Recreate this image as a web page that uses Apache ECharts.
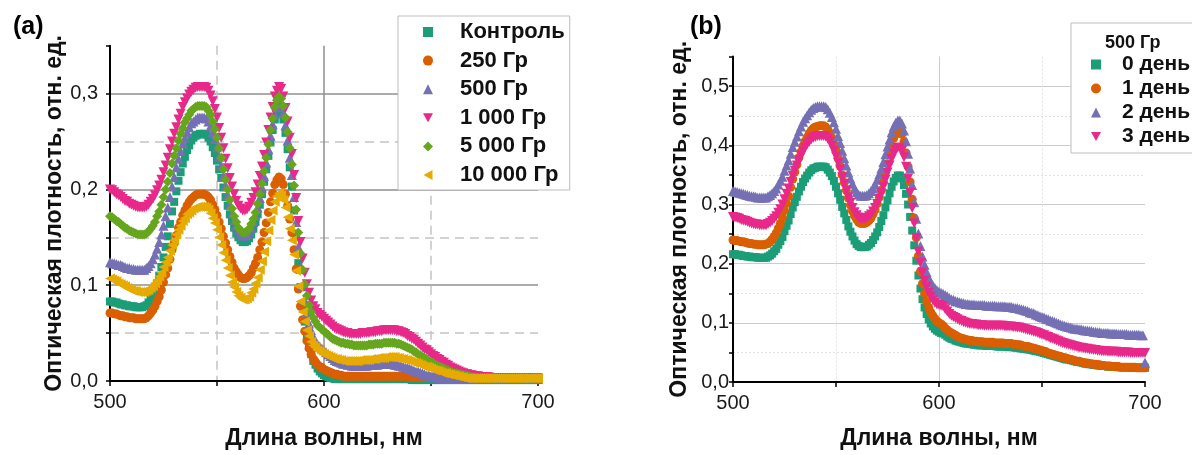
<!DOCTYPE html>
<html>
<head>
<meta charset="utf-8">
<script src="https://cdn.jsdelivr.net/npm/echarts@6/dist/echarts.min.js"></script>
<style>
  html, body { margin: 0; padding: 0; background: #ffffff; }
  #chart { width: 1192px; height: 455px; }
</style>
</head>
<body>
<div id="chart"></div>
<script>
// Wavelength grid, 1 nm step
const wavelengths = [];
for (let nm = 500; nm <= 700; nm++) wavelengths.push(nm);

// Panel (a): spectra after different doses
const doseNames = ['Контроль', '250 Гр', '500 Гр', '1 000 Гр', '5 000 Гр', '10 000 Гр'];

const doseControl = [
  .083,.083,.082,.082,.081,.080,.080,.079,.079,.078,
  .078,.078,.077,.077,.077,.077,.078,.079,.082,.085,
  .090,.095,.102,.110,.119,.129,.140,.151,.164,.177,
  .187,.198,.209,.218,.227,.234,.241,.246,.251,.254,
  .256,.257,.258,.258,.258,.257,.254,.250,.244,.238,
  .230,.221,.212,.202,.192,.183,.174,.167,.160,.154,
  .150,.147,.145,.145,.146,.149,.153,.159,.166,.174,
  .184,.195,.208,.221,.235,.249,.262,.273,.280,.284,
  .281,.273,.259,.242,.223,.203,.178,.151,.123,.098,
  .078,.062,.048,.037,.028,.021,.017,.013,.010,.008,
  .006,.005,.004,.003,.003,.002,.002,.002,.002,.002,
  .002,.002,.002,.002,.002,.002,.002,.002,.002,.002,
  .002,.002,.002,.002,.002,.002,.002,.002,.002,.002,
  .002,.002,.002,.002,.002,.002,.002,.002,.002,.002,
  .002,.001,.001,.001,.001,.001,.001,.001,.001,.001,
  .001,.001,.001,.001,.001,.001,.001,.001,.001,.001,
  .001,.001,.001,.001,.001,.001,.001,.001,.001,.001,
  .001,.001,.001,.001,.001,.001,.001,.001,.001,.001,
  .001,.001,.001,.001,.001,.001,.001,.001,.001,.001,
  .001,.001,.001,.001,.001,.001,.001,.001,.001,.001,
  .001
];

const dose250 = [
  .071,.071,.070,.070,.069,.068,.068,.067,.067,.066,
  .066,.066,.065,.065,.065,.065,.065,.066,.068,.071,
  .074,.078,.083,.088,.095,.103,.111,.118,.127,.137,
  .144,.152,.160,.166,.173,.178,.183,.187,.190,.192,
  .194,.195,.195,.195,.195,.194,.192,.189,.184,.179,
  .173,.166,.159,.151,.144,.137,.130,.124,.118,.114,
  .111,.108,.107,.107,.108,.110,.113,.118,.123,.129,
  .137,.145,.155,.165,.176,.187,.196,.205,.210,.213,
  .211,.205,.195,.183,.169,.155,.137,.117,.096,.078,
  .064,.052,.042,.034,.028,.023,.020,.017,.015,.014,
  .012,.011,.010,.009,.008,.007,.007,.006,.006,.005,
  .005,.005,.005,.005,.005,.005,.005,.005,.005,.005,
  .005,.005,.005,.005,.005,.005,.005,.005,.005,.005,
  .005,.005,.005,.005,.005,.005,.005,.005,.005,.005,
  .005,.004,.004,.004,.004,.004,.004,.004,.004,.004,
  .004,.004,.004,.004,.004,.004,.004,.004,.004,.004,
  .004,.003,.003,.003,.003,.003,.003,.003,.003,.003,
  .003,.003,.003,.003,.003,.003,.003,.003,.003,.003,
  .003,.003,.003,.003,.003,.003,.003,.003,.003,.003,
  .003,.003,.003,.003,.003,.003,.003,.003,.003,.003,
  .003
];

const dose500 = [
  .124,.123,.123,.122,.121,.121,.120,.119,.118,.118,
  .117,.117,.116,.116,.116,.116,.116,.118,.120,.123,
  .127,.132,.138,.145,.153,.162,.172,.181,.192,.203,
  .213,.223,.232,.240,.248,.254,.260,.265,.269,.271,
  .273,.275,.275,.275,.275,.274,.271,.266,.260,.253,
  .244,.234,.225,.214,.204,.194,.184,.175,.168,.162,
  .157,.154,.152,.152,.153,.156,.160,.166,.173,.181,
  .191,.202,.214,.228,.242,.256,.268,.279,.286,.290,
  .287,.280,.267,.251,.233,.215,.192,.166,.140,.117,
  .099,.084,.071,.060,.053,.046,.042,.038,.036,.034,
  .032,.030,.028,.026,.024,.022,.021,.020,.019,.018,
  .018,.017,.017,.016,.016,.016,.016,.016,.016,.016,
  .016,.017,.017,.017,.017,.017,.018,.018,.018,.018,
  .018,.018,.018,.017,.017,.016,.016,.015,.014,.014,
  .013,.012,.011,.010,.010,.009,.008,.007,.006,.006,
  .005,.005,.004,.004,.003,.003,.002,.002,.002,.002,
  .002,.002,.002,.002,.002,.002,.002,.002,.002,.002,
  .002,.002,.002,.002,.002,.002,.002,.002,.002,.002,
  .002,.002,.002,.002,.002,.002,.002,.002,.002,.002,
  .002,.002,.002,.002,.002,.002,.002,.002,.002,.002,
  .002
];

const dose1000 = [
  .200,.199,.197,.195,.194,.192,.190,.188,.187,.185,
  .184,.183,.182,.181,.181,.181,.181,.182,.184,.187,
  .190,.194,.199,.204,.210,.218,.225,.233,.242,.250,
  .258,.265,.273,.279,.286,.291,.295,.299,.302,.304,
  .306,.307,.307,.307,.307,.306,.303,.298,.292,.284,
  .275,.264,.254,.243,.232,.222,.212,.203,.195,.188,
  .183,.180,.178,.178,.179,.182,.186,.191,.197,.205,
  .214,.224,.236,.249,.262,.275,.286,.297,.303,.307,
  .305,.297,.285,.271,.254,.237,.215,.191,.167,.145,
  .128,.113,.101,.092,.084,.078,.075,.071,.069,.067,
  .065,.063,.061,.059,.057,.055,.054,.053,.052,.051,
  .050,.050,.049,.049,.049,.049,.049,.049,.050,.050,
  .050,.050,.051,.051,.051,.052,.052,.052,.053,.053,
  .053,.053,.053,.053,.052,.052,.051,.050,.049,.047,
  .046,.044,.043,.041,.039,.037,.035,.033,.032,.030,
  .028,.026,.025,.023,.022,.020,.019,.017,.016,.014,
  .013,.012,.011,.010,.009,.008,.007,.007,.006,.006,
  .005,.005,.005,.004,.004,.004,.004,.004,.003,.003,
  .003,.003,.003,.003,.003,.003,.003,.003,.003,.003,
  .003,.003,.003,.003,.003,.003,.003,.003,.003,.003,
  .003
];

const dose5000 = [
  .172,.171,.169,.167,.166,.164,.162,.160,.159,.157,
  .156,.155,.154,.153,.153,.153,.153,.154,.156,.159,
  .162,.166,.172,.177,.184,.192,.200,.208,.217,.227,
  .235,.243,.251,.258,.264,.270,.274,.278,.282,.284,
  .286,.287,.287,.287,.287,.286,.282,.278,.271,.263,
  .254,.243,.233,.221,.210,.200,.189,.180,.172,.166,
  .160,.157,.155,.155,.156,.159,.164,.169,.176,.185,
  .195,.206,.219,.233,.247,.262,.274,.286,.293,.297,
  .295,.287,.275,.260,.243,.226,.204,.179,.155,.133,
  .116,.101,.089,.079,.072,.066,.062,.058,.056,.054,
  .052,.050,.048,.046,.044,.043,.042,.041,.040,.040,
  .039,.039,.038,.038,.037,.037,.037,.037,.037,.037,
  .037,.038,.038,.038,.039,.039,.039,.039,.040,.040,
  .040,.040,.040,.040,.039,.039,.038,.037,.036,.035,
  .034,.033,.031,.030,.028,.027,.025,.024,.023,.021,
  .020,.019,.017,.016,.015,.014,.013,.012,.011,.010,
  .009,.008,.008,.007,.007,.006,.006,.005,.005,.004,
  .004,.003,.003,.003,.003,.003,.003,.003,.003,.003,
  .003,.003,.003,.003,.003,.003,.003,.003,.003,.003,
  .003,.003,.003,.003,.003,.003,.003,.003,.003,.003,
  .003
];

const dose10000 = [
  .107,.106,.105,.104,.102,.101,.100,.099,.097,.096,
  .095,.094,.094,.093,.093,.093,.093,.094,.095,.097,
  .099,.102,.105,.109,.113,.119,.124,.129,.136,.142,
  .147,.153,.158,.162,.167,.170,.174,.176,.178,.180,
  .181,.182,.182,.182,.182,.181,.179,.175,.170,.165,
  .158,.150,.142,.134,.126,.118,.110,.103,.098,.093,
  .089,.087,.085,.085,.086,.088,.092,.096,.102,.108,
  .116,.125,.135,.146,.157,.168,.178,.187,.193,.196,
  .194,.189,.181,.171,.159,.147,.132,.115,.099,.083,
  .072,.062,.053,.047,.041,.037,.035,.032,.031,.029,
  .028,.027,.026,.025,.024,.023,.023,.022,.022,.021,
  .021,.021,.021,.021,.021,.021,.021,.022,.022,.022,
  .022,.022,.023,.023,.023,.024,.024,.024,.024,.025,
  .025,.025,.025,.025,.024,.024,.023,.023,.022,.022,
  .021,.020,.019,.019,.018,.017,.016,.015,.015,.014,
  .013,.012,.011,.011,.010,.009,.008,.008,.007,.007,
  .006,.006,.005,.005,.004,.004,.003,.003,.003,.003,
  .003,.003,.003,.003,.003,.003,.003,.003,.003,.003,
  .003,.003,.003,.003,.003,.003,.003,.003,.003,.003,
  .003,.003,.003,.003,.003,.003,.003,.003,.003,.003,
  .003
];

// Panel (b): 500 Gy sample measured over several days
const dayTitle = '500 Гр';
const dayNames = ['0 день', '1 день', '2 день', '3 день'];

const day0 = [
  .216,.216,.215,.215,.214,.213,.213,.212,.212,.211,
  .211,.211,.210,.210,.210,.210,.210,.212,.214,.217,
  .221,.225,.232,.238,.245,.255,.264,.273,.284,.295,
  .304,.313,.322,.330,.338,.344,.349,.354,.358,.361,
  .362,.364,.364,.364,.364,.363,.359,.354,.348,.340,
  .330,.319,.308,.296,.285,.274,.263,.254,.246,.239,
  .233,.230,.228,.228,.228,.229,.232,.235,.240,.246,
  .253,.262,.272,.282,.295,.307,.319,.330,.339,.345,
  .349,.349,.344,.333,.318,.300,.279,.256,.231,.205,
  .180,.158,.140,.126,.115,.106,.099,.094,.090,.087,
  .085,.083,.082,.080,.077,.075,.073,.072,.070,.069,
  .068,.067,.066,.065,.065,.064,.064,.063,.063,.062,
  .062,.062,.062,.061,.061,.061,.061,.061,.060,.060,
  .060,.060,.060,.059,.059,.059,.059,.058,.058,.057,
  .057,.056,.056,.055,.055,.054,.053,.052,.052,.051,
  .050,.049,.048,.047,.046,.045,.044,.043,.042,.041,
  .040,.039,.038,.038,.037,.036,.035,.034,.034,.033,
  .032,.031,.031,.030,.030,.029,.029,.028,.028,.027,
  .027,.027,.026,.026,.026,.026,.026,.025,.025,.025,
  .025,.025,.025,.024,.024,.024,.024,.024,.024,.024,
  .024
];

const day1 = [
  .240,.239,.239,.238,.237,.237,.236,.235,.234,.234,
  .233,.233,.232,.232,.232,.232,.233,.234,.237,.241,
  .246,.252,.260,.268,.278,.290,.302,.314,.329,.343,
  .355,.367,.379,.389,.399,.407,.414,.420,.425,.429,
  .431,.432,.433,.433,.433,.431,.427,.421,.413,.403,
  .392,.379,.365,.350,.337,.324,.311,.299,.289,.281,
  .275,.270,.268,.268,.268,.270,.273,.277,.284,.291,
  .301,.312,.324,.338,.354,.369,.385,.399,.412,.419,
  .424,.424,.419,.406,.387,.364,.338,.309,.277,.244,
  .213,.187,.166,.149,.136,.126,.118,.112,.107,.103,
  .100,.098,.095,.091,.088,.085,.083,.081,.079,.077,
  .075,.074,.073,.072,.071,.070,.070,.069,.069,.068,
  .068,.068,.067,.067,.067,.067,.067,.066,.066,.066,
  .066,.066,.065,.065,.065,.065,.064,.064,.063,.063,
  .062,.061,.060,.060,.059,.058,.057,.056,.055,.054,
  .053,.052,.051,.049,.048,.047,.046,.045,.044,.043,
  .042,.041,.040,.039,.038,.037,.036,.035,.035,.034,
  .033,.032,.032,.031,.031,.030,.030,.029,.029,.028,
  .028,.027,.027,.027,.026,.026,.026,.026,.025,.025,
  .025,.025,.025,.025,.025,.025,.024,.024,.024,.024,
  .024
];

const day2 = [
  .323,.322,.321,.320,.319,.318,.317,.316,.315,.314,
  .314,.313,.312,.312,.312,.312,.312,.314,.316,.319,
  .323,.327,.334,.340,.347,.357,.366,.375,.386,.397,
  .406,.415,.424,.432,.440,.446,.451,.456,.460,.463,
  .465,.466,.466,.466,.466,.465,.461,.455,.448,.439,
  .428,.416,.404,.391,.378,.366,.354,.344,.335,.327,
  .321,.317,.315,.315,.315,.316,.319,.323,.328,.334,
  .342,.351,.361,.372,.385,.398,.410,.422,.432,.438,
  .442,.442,.437,.425,.407,.386,.361,.333,.304,.276,
  .251,.230,.212,.198,.186,.176,.169,.163,.159,.155,
  .153,.151,.149,.147,.145,.142,.140,.139,.137,.136,
  .135,.134,.133,.132,.132,.131,.131,.131,.130,.130,
  .130,.130,.130,.129,.129,.129,.129,.129,.128,.128,
  .128,.128,.128,.127,.127,.127,.126,.125,.125,.124,
  .123,.122,.121,.120,.118,.117,.116,.114,.113,.111,
  .110,.109,.107,.106,.104,.103,.102,.100,.099,.097,
  .096,.095,.094,.093,.092,.091,.090,.090,.089,.089,
  .088,.087,.087,.086,.086,.085,.085,.084,.084,.083,
  .083,.083,.083,.082,.082,.082,.082,.081,.081,.081,
  .081,.081,.080,.080,.080,.080,.080,.080,.079,.079,
  .033
];

const day3 = [
  .279,.278,.277,.276,.274,.273,.272,.271,.269,.268,
  .267,.266,.266,.265,.265,.265,.265,.267,.269,.272,
  .276,.280,.286,.292,.300,.309,.318,.327,.338,.348,
  .357,.366,.375,.383,.390,.396,.402,.406,.410,.413,
  .414,.416,.416,.416,.416,.415,.411,.406,.399,.391,
  .381,.370,.359,.346,.335,.324,.312,.303,.294,.287,
  .282,.278,.276,.276,.276,.277,.280,.283,.288,.294,
  .301,.310,.319,.330,.342,.354,.366,.377,.386,.392,
  .396,.396,.391,.380,.364,.344,.320,.294,.268,.243,
  .220,.201,.185,.171,.160,.151,.144,.138,.134,.131,
  .130,.129,.128,.123,.119,.115,.112,.110,.108,.106,
  .104,.103,.101,.100,.099,.098,.098,.097,.097,.096,
  .096,.096,.095,.095,.095,.095,.095,.095,.095,.095,
  .095,.095,.094,.094,.094,.094,.093,.093,.092,.092,
  .091,.090,.089,.088,.087,.086,.085,.084,.083,.081,
  .080,.079,.077,.076,.074,.073,.072,.070,.069,.067,
  .066,.065,.064,.063,.062,.061,.060,.059,.058,.058,
  .057,.056,.056,.055,.055,.054,.054,.053,.053,.052,
  .052,.052,.051,.051,.051,.051,.051,.050,.050,.050,
  .050,.050,.050,.049,.049,.049,.049,.049,.049,.049,
  .049
];

const FONT = '"Liberation Sans", Arial, Helvetica, sans-serif';
const CLEAR = 'rgba(0,0,0,0)';

const doseSeries = [doseControl, dose250, dose500, dose1000, dose5000, dose10000];
const daySeries = [day0, day1, day2, day3];

// Marker shapes: square, circle, up / down / left triangles, diamond
const TRI_DOWN = 'path://M0,0 L20,0 L10,18 Z';
const TRI_LEFT = 'path://M18,0 L18,20 L0,10 Z';
const doseColors = ['#1b9e77', '#d95f02', '#7570b3', '#e7298a', '#66a61e', '#e6ab02'];
const doseSymbols = [
  { symbol: 'rect', size: 8 },
  { symbol: 'circle', size: 9 },
  { symbol: 'triangle', size: 10 },
  { symbol: TRI_DOWN, size: 10 },
  { symbol: 'diamond', size: 10 },
  { symbol: TRI_LEFT, size: 10 }
];
const dayColors = ['#1b9e77', '#d95f02', '#7570b3', '#e7298a'];
const daySymbols = doseSymbols.slice(0, 4);

function pairs(values) {
  return wavelengths.map((nm, i) => [nm, values[i]]);
}

const yLabel = v => {
  const t = Math.round(v * 100);
  return t % 10 === 0 ? (t / 100).toFixed(1).replace('.', ',') : '';
};
const xLabel = v => (Math.round(v) % 100 === 0 ? String(v) : '');

function mainX(gridIndex, solidColors, solidWidth, nameGap) {
  return {
    type: 'value', gridIndex, min: 500, max: 700, interval: 50, position: 'bottom',
    name: 'Длина волны, нм', nameLocation: 'middle', nameGap,
    nameTextStyle: { fontFamily: FONT, fontSize: 23, fontWeight: 'bold', color: '#111' },
    axisLine: { onZero: false, lineStyle: { color: '#000', width: 2 } },
    axisTick: { show: true, inside: false, length: 5, lineStyle: { color: '#000', width: 1.5 } },
    axisLabel: { formatter: xLabel, fontFamily: FONT, fontSize: 20, color: '#1a1a1a', margin: 11 },
    splitLine: { show: true, lineStyle: { color: solidColors, width: solidWidth, type: 'solid' } }
  };
}
function helperX(gridIndex, colors, type, width) {
  return {
    type: 'value', gridIndex, min: 500, max: 700, interval: 50, position: 'top',
    axisLine: { show: false }, axisTick: { show: false }, axisLabel: { show: false },
    splitLine: { show: true, lineStyle: { color: colors, width, type } }
  };
}
function mainY(gridIndex, max, solidColors, solidWidth, nameGap, labelMargin) {
  return {
    type: 'value', gridIndex, min: 0, max, interval: 0.05, position: 'left',
    name: 'Оптическая плотность, отн. ед.', nameLocation: 'middle', nameGap, nameRotate: 90,
    nameTextStyle: { fontFamily: FONT, fontSize: 23, fontWeight: 'bold', color: '#111' },
    axisLine: { show: true, onZero: false, lineStyle: { color: '#000', width: 2 } },
    axisTick: { show: true, inside: false, length: 4, lineStyle: { color: '#000', width: 1.5 } },
    axisLabel: { formatter: yLabel, fontFamily: FONT, fontSize: 20, color: '#1a1a1a', margin: labelMargin },
    splitLine: { show: true, lineStyle: { color: solidColors, width: solidWidth, type: 'solid' } }
  };
}
function helperY(gridIndex, max, colors, type, width) {
  return {
    type: 'value', gridIndex, min: 0, max, interval: 0.05, position: 'right',
    axisLine: { show: false }, axisTick: { show: false }, axisLabel: { show: false },
    splitLine: { show: true, lineStyle: { color: colors, width, type } }
  };
}

// Panel (a) grid line colours: solid at major values, dashed in between
const gA = '#8f8f8f', dA = '#c4c4c4';
// Panel (b): light solid and dotted lines
const gB = '#cccccc', dB = '#e2e2e2';

const series = [];
doseNames.forEach((name, i) => {
  series.push({
    name, type: 'scatter', xAxisIndex: 0, yAxisIndex: 0,
    data: pairs(doseSeries[i]),
    symbol: doseSymbols[i].symbol, symbolSize: doseSymbols[i].size,
    itemStyle: { color: doseColors[i], opacity: 1 },
    silent: true, emphasis: { disabled: true }
  });
});
dayNames.forEach((name, i) => {
  series.push({
    name, type: 'scatter', xAxisIndex: 2, yAxisIndex: 2,
    data: pairs(daySeries[i]),
    symbol: daySymbols[i].symbol, symbolSize: daySymbols[i].size,
    itemStyle: { color: dayColors[i], opacity: 1 },
    silent: true, emphasis: { disabled: true }
  });
});

const legendText = (size, lineHeight, gap) => ({
  fontFamily: FONT, fontSize: size, fontWeight: 'bold', color: '#111', lineHeight,
  rich: { g: { width: gap } }
});

const option = {
  animation: false,
  backgroundColor: '#ffffff',
  title: [
    { text: '(a)', left: 8, top: 10, textStyle: { fontFamily: FONT, fontSize: 25, fontWeight: 'bold', color: '#000' } },
    { text: '(b)', left: 685, top: 10, textStyle: { fontFamily: FONT, fontSize: 25, fontWeight: 'bold', color: '#000' } },
    { text: dayTitle, left: 1100, top: 29, textStyle: { fontFamily: FONT, fontSize: 18, fontWeight: 'bold', color: '#111' } }
  ],
  grid: [
    { left: 110, top: 45.7, width: 428, height: 342 },
    { left: 733, top: 56.6, width: 412, height: 331.6 }
  ],
  xAxis: [
    mainX(0, [CLEAR, CLEAR, gA, CLEAR, CLEAR], 1.5, 46),
    helperX(0, [CLEAR, dA, CLEAR, dA, CLEAR], [9, 6], 1.5),
    mainX(1, [CLEAR, CLEAR, gB, CLEAR, CLEAR], 1, 45),
    helperX(1, [CLEAR, dB, CLEAR, dB, CLEAR], [2, 2], 1)
  ],
  yAxis: [
    mainY(0, 0.35, [CLEAR, CLEAR, gA, CLEAR, gA, CLEAR, gA, CLEAR], 1.5, 41, 12),
    helperY(0, 0.35, [CLEAR, dA, CLEAR, dA, CLEAR, dA, CLEAR, CLEAR], [9, 6], 1.5),
    mainY(1, 0.55, [CLEAR, CLEAR, gB, CLEAR, gB, CLEAR, gB, CLEAR, gB, CLEAR, gB, CLEAR], 1, 42, 4),
    helperY(1, 0.55, [CLEAR, dB, CLEAR, dB, CLEAR, dB, CLEAR, dB, CLEAR, dB, CLEAR, CLEAR], [2, 2], 1)
  ],
  legend: [
    {
      data: doseNames, orient: 'vertical', left: 398, top: 16,
      itemWidth: 10, itemHeight: 10, itemGap: 6.6,
      padding: [5, 5, 4, 25],
      backgroundColor: '#ffffff', borderColor: '#bdbdbd', borderWidth: 1,
      selectedMode: false,
      formatter: name => '{g|}' + name,
      textStyle: legendText(22, 22, 22)
    },
    {
      data: dayNames, orient: 'vertical', left: 1071, top: 23,
      itemWidth: 10, itemHeight: 10, itemGap: 3,
      padding: [31, 40, 6, 20],
      backgroundColor: '#ffffff', borderColor: '#bdbdbd', borderWidth: 1,
      selectedMode: false,
      formatter: name => '{g|}' + name,
      textStyle: legendText(21, 21, 16)
    }
  ],
  series
};

const chart = echarts.init(document.getElementById('chart'), null, { renderer: 'canvas' });
chart.setOption(option);
</script>
</body>
</html>
